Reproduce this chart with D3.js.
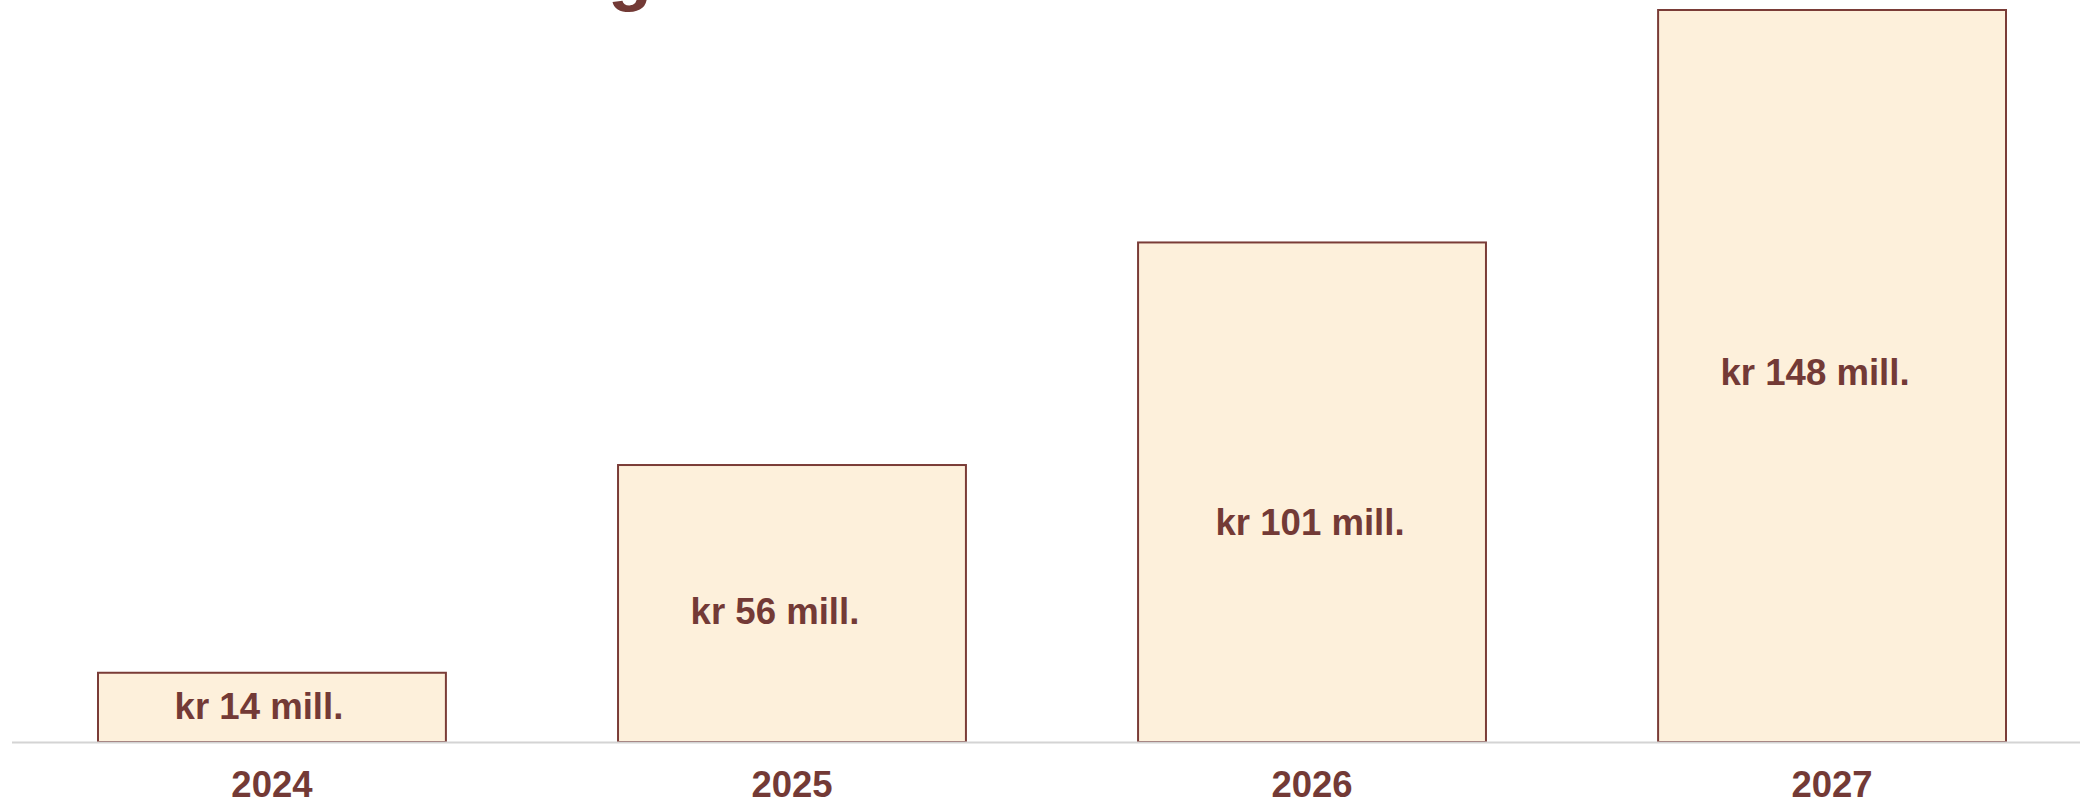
<!DOCTYPE html>
<meta charset="utf-8">
<style>
  body {
    margin: 0;
    background-color: #fff;
  }

  .bar {
    fill: #fdf0db;
    stroke: #7a3c37;
    stroke-width: 2px;
  }

  .label,
  .axis text,
  .title {
    fill: #733a36;
    font-family: "Liberation Sans", Arial, sans-serif;
    font-weight: bold;
  }

  .baseline {
    stroke: #d4d4d4;
    stroke-width: 2px;
  }
</style>
<svg width="2080" height="805"></svg>
<script src="https://cdnjs.cloudflare.com/ajax/libs/d3/7.8.5/d3.min.js"></script>
<script>
  // data
  var years = ["2024", "2025", "2026", "2027"];
  var values = [14, 56, 101, 148];
  var labels = ["kr 14 mill.", "kr 56 mill.", "kr 101 mill.", "kr 148 mill."];

  // hand placed label nudges (x, y) from bar center / middle
  var nudgeX = [-13, -17, -2, -17];
  var nudgeY = [12, 20, 43, 9];

  var svg = d3.select("svg"),
    width = +svg.attr("width"),
    height = +svg.attr("height");

  var baseY = 742;

  var x = d3.scaleBand()
    .domain(years)
    .range([98, 2006])
    .paddingInner(0.331)
    .paddingOuter(0);

  var y = d3.scaleLinear()
    .domain([0, 148])
    .range([baseY, 10]);

  // title sits mostly above the visible area
  svg.append("text")
    .attr("class", "title")
    .attr("x", 652)
    .attr("y", -3)
    .attr("text-anchor", "end")
    .style("font-size", "72px")
    .text("Forventet økning");

  svg.selectAll(".bar")
    .data(values)
    .enter().append("rect")
    .attr("class", "bar")
    .attr("x", function(d, i) { return x(years[i]); })
    .attr("y", function(d) { return y(d); })
    .attr("width", x.bandwidth())
    .attr("height", function(d) { return baseY - y(d); });

  svg.append("line")
    .attr("class", "baseline")
    .attr("x1", 12)
    .attr("x2", width)
    .attr("y1", baseY + 0.5)
    .attr("y2", baseY + 0.5);

  svg.selectAll(".label")
    .data(values)
    .enter().append("text")
    .attr("class", "label")
    .attr("text-anchor", "middle")
    .style("font-size", "36.6px")
    .attr("x", function(d, i) { return x(years[i]) + x.bandwidth() / 2 + nudgeX[i]; })
    .attr("y", function(d, i) { return (y(d) + baseY) / 2 + nudgeY[i]; })
    .text(function(d, i) { return labels[i]; });

  var axis = svg.append("g")
    .attr("class", "axis")
    .attr("transform", "translate(0," + baseY + ")")
    .call(d3.axisBottom(x).tickSize(0).tickPadding(29));

  axis.select(".domain").remove();
  axis.selectAll("text")
    .style("font-size", "36.5px");
</script>
